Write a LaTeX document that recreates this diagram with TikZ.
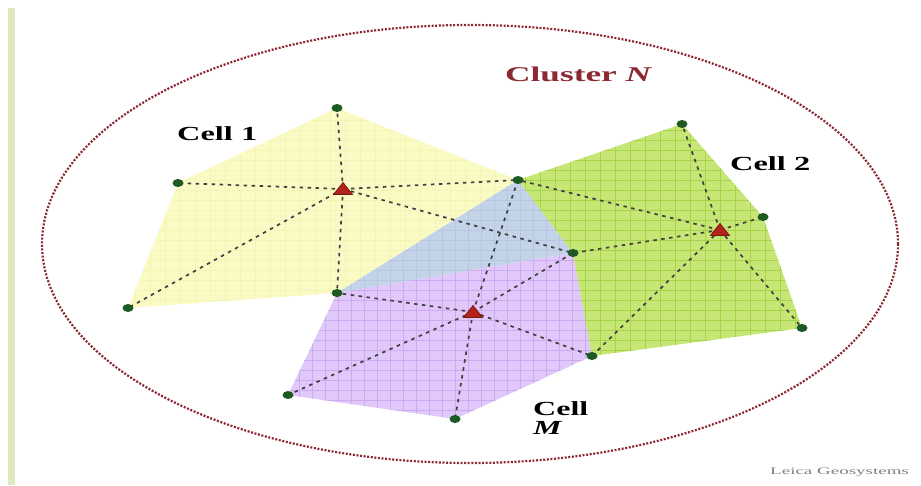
\documentclass[tikz,border=0pt]{standalone}
\usepackage{fontspec}
\setmainfont{Liberation Serif}
\usetikzlibrary{shapes.geometric}
\definecolor{yfill}{RGB}{250,250,196}
\definecolor{ygrid}{RGB}{244,244,182}
\definecolor{gfill}{RGB}{198,230,118}
\definecolor{ggrid}{RGB}{165,212,75}
\definecolor{pfill}{RGB}{225,200,250}
\definecolor{pgrid}{RGB}{204,170,240}
\definecolor{bfill}{RGB}{196,212,232}
\definecolor{bgrid}{RGB}{182,200,224}
\definecolor{dotgreen}{RGB}{30,90,35}
\definecolor{trired}{RGB}{178,35,25}
\definecolor{clusterred}{RGB}{140,40,50}
\definecolor{leftbar}{RGB}{222,234,190}
\begin{document}
\begin{tikzpicture}[x=1pt,y=-1pt,
  dl/.style={draw=black!75, line width=1.7pt, dash pattern=on 3.5pt off 4.5pt},
  gdot/.style={ellipse, fill=dotgreen, minimum width=11pt, minimum height=8pt, inner sep=0pt},
  tri/.style={fill=trired, draw=trired!70!black, line width=0.8pt},
  cluster/.style={draw=clusterred, line width=2.2pt, dash pattern=on 2pt off 1.6pt},
  lbl/.style={anchor=base west, inner sep=0pt, font=\fontsize{20}{22}\selectfont\bfseries}]
\useasboundingbox (0,0) rectangle (921,485);
\fill[white] (0,0) rectangle (921,485);
\fill[leftbar] (8,8) rectangle (15,485);
% vertices
\coordinate (A) at (337,108);
\coordinate (B) at (178,183);
\coordinate (C) at (128,308);
\coordinate (D) at (337,293);
\coordinate (E) at (518,180);
\coordinate (F) at (573,253);
\coordinate (G) at (682,124);
\coordinate (H) at (763,217);
\coordinate (I) at (802,328);
\coordinate (J) at (592,356);
\coordinate (K) at (455,419);
\coordinate (L) at (288,395);
% centres
\coordinate (T1) at (343,189);
\coordinate (T2) at (720,230);
\coordinate (TM) at (473,312);
% cell 1 (yellow)
\begin{scope}
\clip (A) -- (E) -- (D) -- (C) -- (B) -- cycle;
\fill[yfill] (0,0) rectangle (921,485);
\draw[ygrid, line width=0.6pt] (0,0) grid[xstep=15pt, ystep=10pt] (921,485);
\end{scope}
% overlap (blue)
\begin{scope}
\clip (D) -- (E) -- (F) -- cycle;
\fill[bfill] (0,0) rectangle (921,485);
\draw[bgrid, line width=0.6pt] (0,0) grid[xstep=13pt, ystep=10pt] (921,485);
\end{scope}
% cell M (purple)
\begin{scope}
\clip (D) -- (F) -- (J) -- (K) -- (L) -- cycle;
\fill[pfill] (0,0) rectangle (921,485);
\draw[pgrid, line width=0.8pt] (0,0) grid[xstep=13pt, ystep=10pt] (921,485);
\end{scope}
% cell 2 (green)
\begin{scope}
\clip (E) -- (G) -- (H) -- (I) -- (J) -- (F) -- cycle;
\fill[gfill] (0,0) rectangle (921,485);
\draw[ggrid, line width=1pt] (0,0) grid[xstep=15pt, ystep=10pt] (921,485);
\end{scope}
% cluster boundary
\draw[cluster] (470,244) ellipse [x radius=428pt, y radius=219pt];
% connectors
\foreach \v in {A,B,C,D,E,F} \draw[dl] (T1) -- (\v);
\foreach \v in {E,F,G,H,I,J} \draw[dl] (T2) -- (\v);
\foreach \v in {D,E,F,J,K,L} \draw[dl] (TM) -- (\v);
% vertex dots
\foreach \v in {A,B,C,D,E,F,G,H,I,J,K,L} \node[gdot] (d\v) at (\v) {};
% centre triangles
\foreach \t in {T1,T2,TM} \fill[tri] (\t) ++(-9.5,5.5) -- ++(9.5,-12) -- ++(9.5,12) -- cycle;
% labels
\node[lbl, text=clusterred, font=\fontsize{21}{23}\selectfont\bfseries] (lcluster) at (505,81) {\scalebox{1.68}[1]{Cluster \textit{N}}};
\node[lbl] (lcell1) at (177,140) {\scalebox{1.62}[1]{Cell 1}};
\node[lbl] (lcell2) at (730,170) {\scalebox{1.62}[1]{Cell 2}};
\node[lbl] (lcellm) at (533,415) {\scalebox{1.6}[1]{Cell}};
\node[lbl] (lm) at (533,434) {\scalebox{1.6}[1]{\textit{M}}};
\node[anchor=base west, inner sep=0pt, text=black!50, font=\fontsize{10}{12}\selectfont] (lleica) at (770,474) {\scalebox{1.9}[1]{Leica Geosystems}};
\end{tikzpicture}
\end{document}
